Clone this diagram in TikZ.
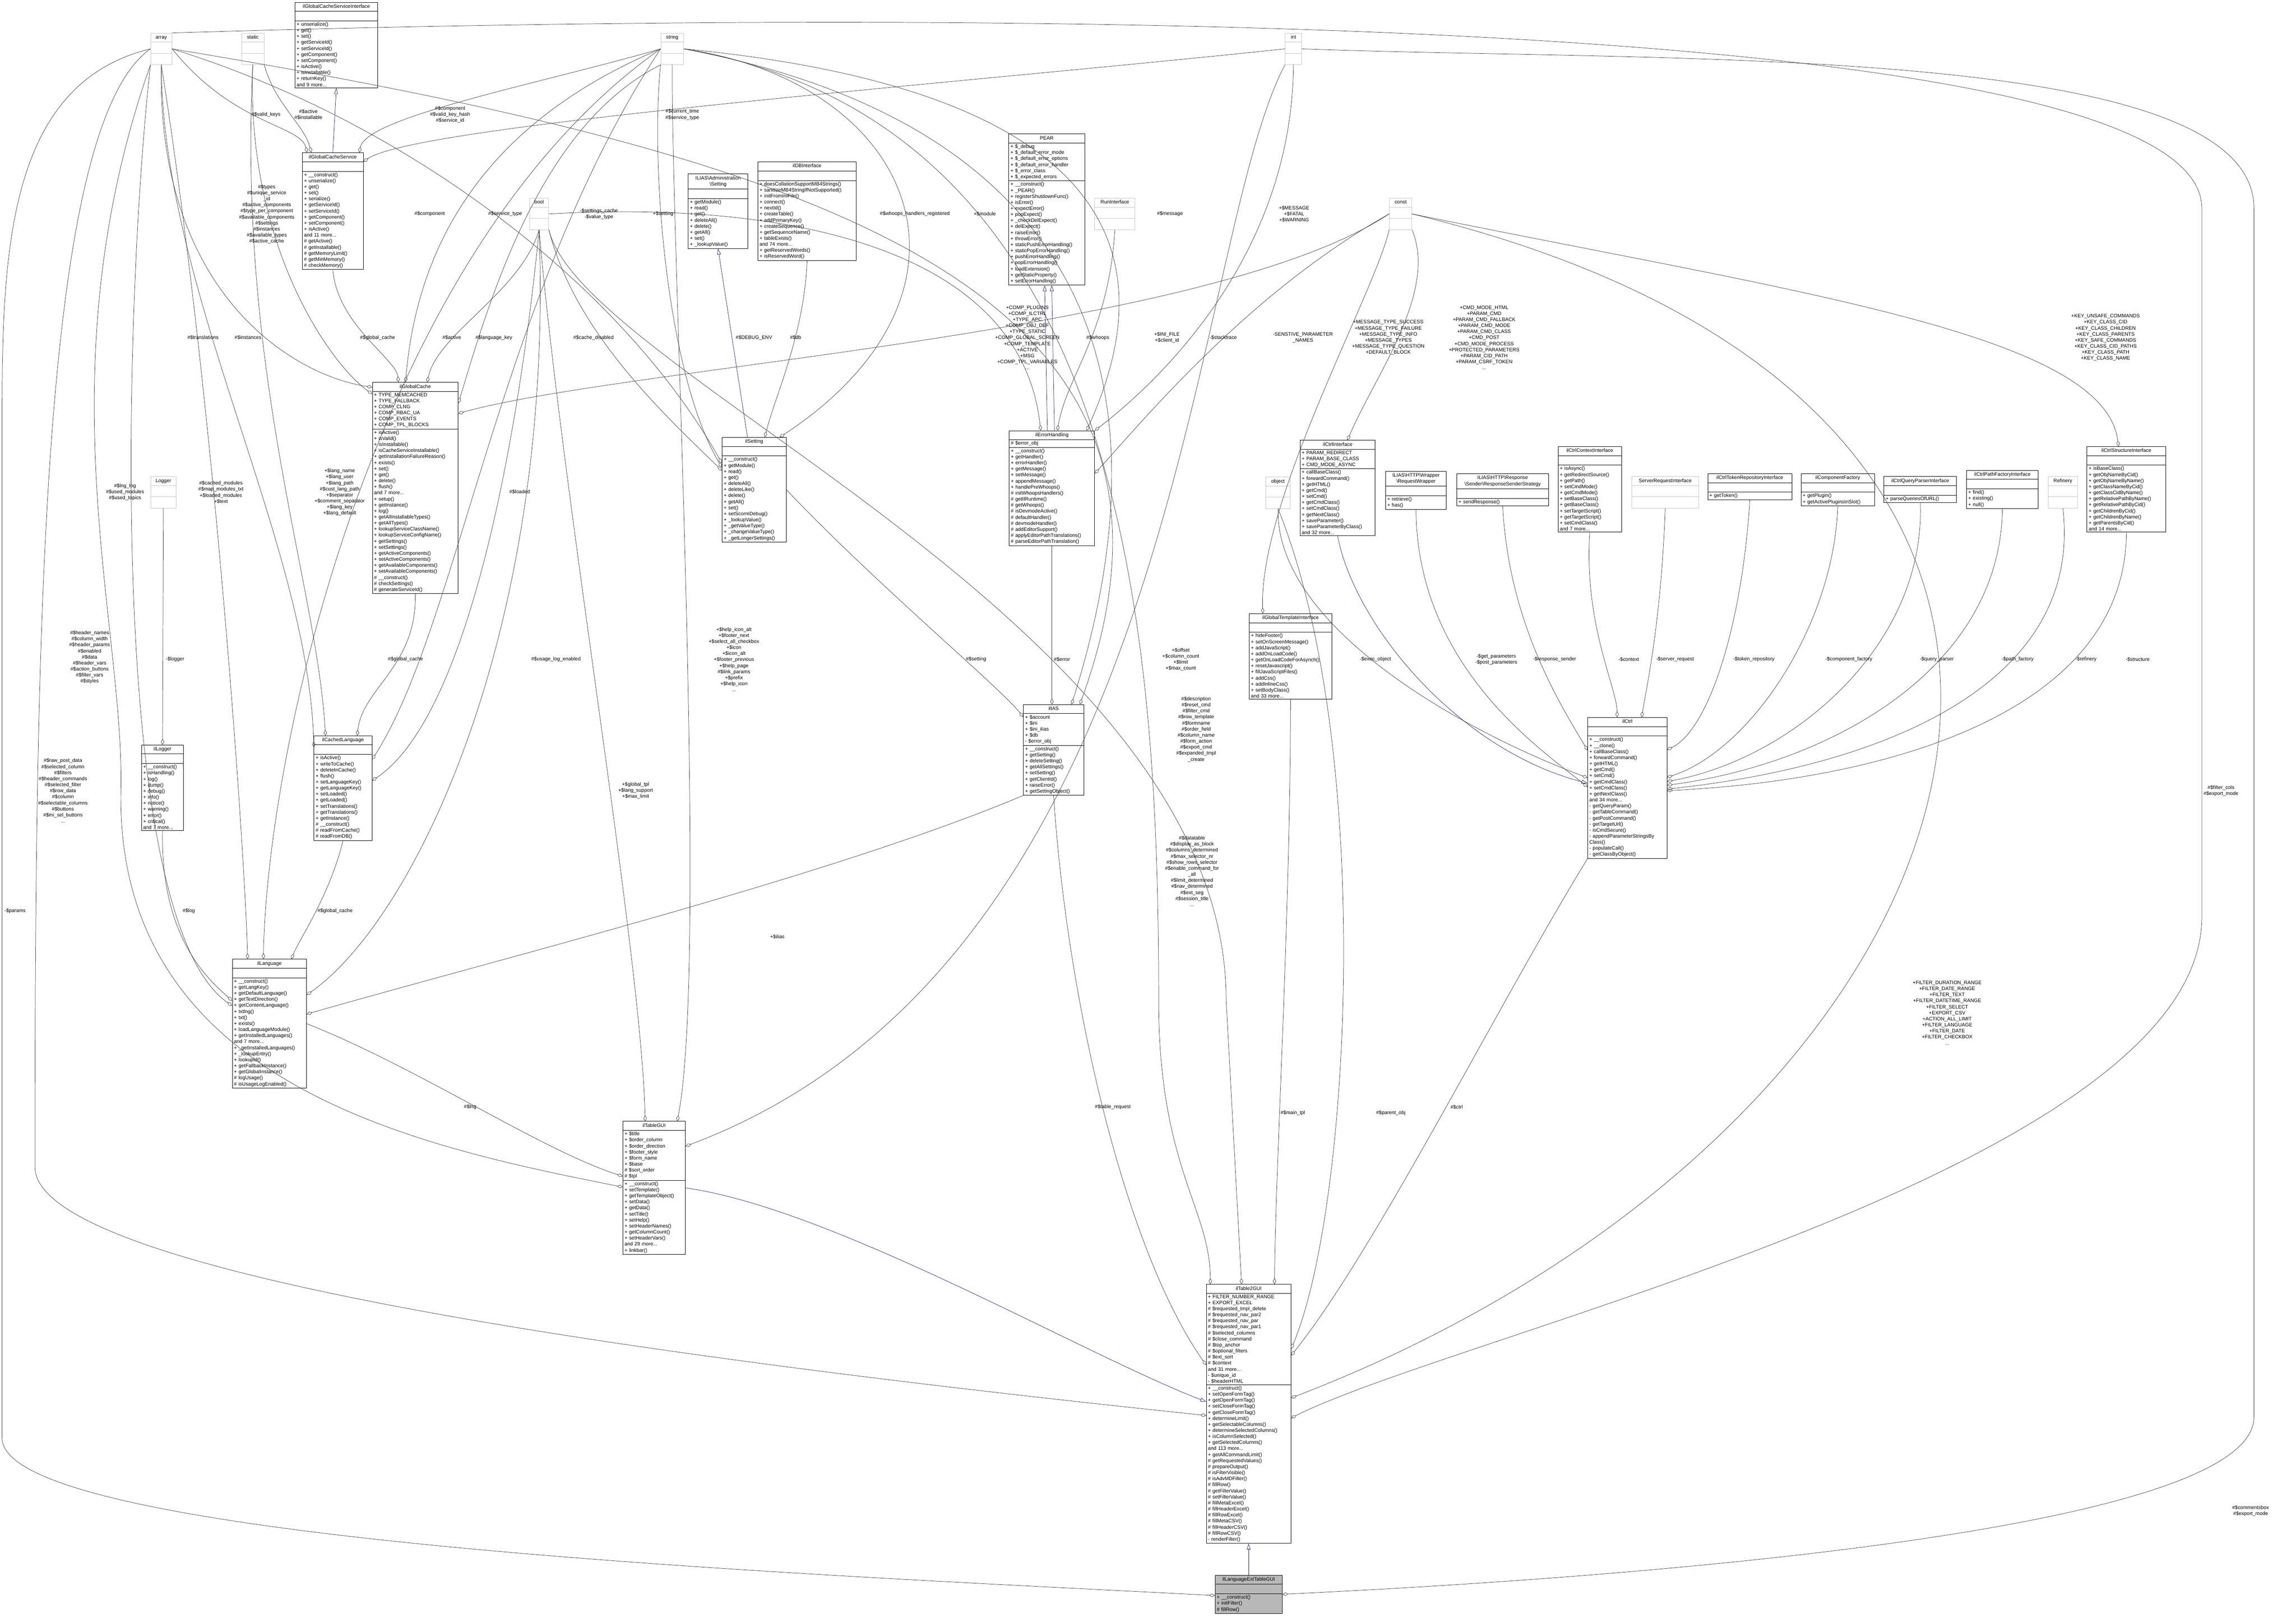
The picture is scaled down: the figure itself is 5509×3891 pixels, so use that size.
\documentclass[tikz,border=0pt]{standalone}
\usepackage{fontspec}
\newfontfamily\cf{Liberation Sans}
\usetikzlibrary{shapes.multipart,arrows.meta}
\definecolor{navy}{HTML}{191970}
\tikzset{
 cbox/.style={rectangle split,rectangle split parts=3,draw=black,line width=1pt,anchor=north west,
   inner xsep=4pt,inner ysep=3pt,align=left,font={\cf\fontsize{12}{14.5}\selectfont},
   rectangle split empty part height=14pt,rectangle split ignore empty parts=false},
 graybox/.style={draw=gray!45},
 extbox/.style={fill=gray!55},
 lbl/.style={font={\cf\fontsize{12}{14.5}\selectfont},align=center,inner sep=0pt},
 agg/.style={draw=black!80,line width=0.8pt,-{Diamond[open,length=14pt,width=8pt]}},
 inh/.style={draw=navy,line width=0.8pt,-{Triangle[open,length=14pt,width=9pt]}}
}
\newcommand\E{\rule{0pt}{16pt}}
\newcommand\T[2]{\makebox[#1pt][c]{\begin{tabular}{@{}c@{}}#2\end{tabular}}}
\newcommand\umlc[7]{\node[cbox,text width=#4pt] (#1) at (#2,#3) {\T{#4}{#5}\nodepart{two}\if\relax\detokenize{#6}\relax\E\else #6\fi\nodepart{three}#7};}
\newcommand\umlg[5]{\node[cbox,graybox,text width=#4pt] (#1) at (#2,#3) {\T{#4}{#5}\nodepart{two}\rule{0pt}{20pt}\nodepart{three}\rule{0pt}{20pt}};}
\newcommand\lab[4]{\node[lbl] (#1) at (#2,#3) {#4};}
\begin{document}
\begin{tikzpicture}[x=1pt,y=-1pt]
\useasboundingbox[fill=white] (0,0) rectangle (5509,3891);
% ---------- gray type boxes
\umlg{arr}{361}{79}{43}{array}
\umlg{sta}{579}{79}{46}{static}
\umlg{str}{1585}{79}{47}{string}
\umlg{int}{3083}{79}{32}{int}
\umlg{bool}{1270}{475}{38}{bool}
\umlg{const}{3333}{475}{46}{const}
\umlg{run}{2626}{475}{89}{RunInterface}
\umlg{obj}{3037}{1144}{50}{object}
\umlg{logger}{361}{1143}{53}{Logger}
\umlg{sri}{3915}{1143}{152}{ServerRequestInterface}
\umlg{refinery}{4914}{1143}{62}{Refinery}
% ---------- classes
\umlc{gcsi}{707}{5}{191}{ilGlobalCacheServiceInterface}{}{+ unserialize()\\+ get()\\+ set()\\+ getServiceId()\\+ setServiceId()\\+ getComponent()\\+ setComponent()\\+ isActive()\\+ isInstallable()\\+ returnKey()\\and 9 more...}
\umlc{gcs}{725}{366}{138}{ilGlobalCacheService}{}{+ \_\_construct()\\+ unserialize()\\+ get()\\+ set()\\+ serialize()\\+ getServiceId()\\+ setServiceId()\\+ getComponent()\\+ setComponent()\\+ isActive()\\and 11 more...\\\# getActive()\\\# getInstallable()\\\# getMemoryLimit()\\\# getMinMemory()\\\# checkMemory()}
\umlc{setI}{1651}{417}{135}{ILIAS\textbackslash Administration\\\textbackslash Setting}{}{+ getModule()\\+ read()\\+ get()\\+ deleteAll()\\+ delete()\\+ getAll()\\+ set()\\+ \_lookupValue()}
\umlc{db}{1818}{388}{228}{ilDBInterface}{}{+ doesCollationSupportMB4Strings()\\+ sanitizeMB4StringIfNotSupported()\\+ initFromIniFile()\\+ connect()\\+ nextId()\\+ createTable()\\+ addPrimaryKey()\\+ createSequence()\\+ getSequenceName()\\+ tableExists()\\and 74 more...\\+ getReservedWords()\\+ isReservedWord()}
\umlc{pear}{2420}{321}{174}{PEAR}{+ \$\_debug\\+ \$\_default\_error\_mode\\+ \$\_default\_error\_options\\+ \$\_default\_error\_handler\\+ \$\_error\_class\\+ \$\_expected\_errors}{+ \_\_construct()\\+ \_PEAR()\\+ registerShutdownFunc()\\+ isError()\\+ expectError()\\+ popExpect()\\+ \_checkDelExpect()\\+ delExpect()\\+ raiseError()\\+ throwError()\\+ staticPushErrorHandling()\\+ staticPopErrorHandling()\\+ pushErrorHandling()\\+ popErrorHandling()\\+ loadExtension()\\+ getStaticProperty()\\+ setErrorHandling()}
\umlc{gc}{893}{917}{198}{ilGlobalCache}{+ TYPE\_MEMCACHED\\+ TYPE\_FALLBACK\\+ COMP\_CLNG\\+ COMP\_RBAC\_UA\\+ COMP\_EVENTS\\+ COMP\_TPL\_BLOCKS}{+ isActive()\\+ isValid()\\+ isInstallable()\\+ isCacheServiceInstallable()\\+ getInstallationFailureReason()\\+ exists()\\+ set()\\+ get()\\+ delete()\\+ flush()\\and 7 more...\\+ setup()\\+ getInstance()\\+ log()\\+ getAllInstallableTypes()\\+ getAllTypes()\\+ lookupServiceClassName()\\+ lookupServiceConfigName()\\+ getSettings()\\+ setSettings()\\+ getActiveComponents()\\+ setActiveComponents()\\+ getAvailableComponents()\\+ setAvailableComponents()\\\# \_\_construct()\\\# checkSettings()\\\# generateServiceId()}
\umlc{set}{1732}{1049}{146}{ilSetting}{}{+ \_\_construct()\\+ getModule()\\+ read()\\+ get()\\+ deleteAll()\\+ deleteLike()\\+ delete()\\+ getAll()\\+ set()\\+ setScormDebug()\\+ \_lookupValue()\\+ \_getValueType()\\+ \_changeValueType()\\+ \_getLongerSettings()}
\umlc{eh}{2421}{1033}{197}{ilErrorHandling}{\# \$error\_obj}{+ \_\_construct()\\+ getHandler()\\+ errorHandler()\\+ getMessage()\\+ setMessage()\\+ appendMessage()\\+ handlePreWhoops()\\\# initWhoopsHandlers()\\\# getIlRuntime()\\\# getWhoops()\\\# isDevmodeActive()\\\# defaultHandler()\\\# devmodeHandler()\\\# addEditorSupport()\\\# applyEditorPathTranslations()\\\# parseEditorPathTranslation()}
\umlc{ci}{3119}{1056}{172}{ilCtrlInterface}{+ PARAM\_REDIRECT\\+ PARAM\_BASE\_CLASS\\+ CMD\_MODE\_ASYNC}{+ callBaseClass()\\+ forwardCommand()\\+ getHTML()\\+ getCmd()\\+ setCmd()\\+ getCmdClass()\\+ setCmdClass()\\+ getNextClass()\\+ saveParameter()\\+ saveParameterByClass()\\and 32 more...}
\umlc{rw}{3324}{1130}{138}{ILIAS\textbackslash HTTP\textbackslash Wrapper\\\textbackslash RequestWrapper}{}{+ retrieve()\\+ has()}
\umlc{rss}{3495}{1136}{212}{ILIAS\textbackslash HTTP\textbackslash Response\\\textbackslash Sender\textbackslash ResponseSenderStrategy}{}{+ sendResponse()}
\umlc{cci}{3738}{1071}{144}{ilCtrlContextInterface}{}{+ isAsync()\\+ getRedirectSource()\\+ getPath()\\+ setCmdMode()\\+ getCmdMode()\\+ setBaseClass()\\+ getBaseClass()\\+ setTargetScript()\\+ getTargetScript()\\+ setCmdClass()\\and 7 more...}
\umlc{ctr}{4097}{1136}{194}{ilCtrlTokenRepositoryInterface}{}{+ getToken()}
\umlc{cf}{4321}{1136}{168}{ilComponentFactory}{}{+ getPlugin()\\+ getActivePluginsInSlot()}
\umlc{qp}{4520}{1143}{166}{ilCtrlQueryParserInterface}{}{+ parseQueriesOfURL()}
\umlc{pf}{4718}{1128}{164}{ilCtrlPathFactoryInterface}{}{+ find()\\+ existing()\\+ null()}
\umlc{csi}{5007}{1071}{181}{ilCtrlStructureInterface}{}{+ isBaseClass()\\+ getObjNameByCid()\\+ getObjNameByName()\\+ getClassNameByCid()\\+ getClassCidByName()\\+ getRelativePathByName()\\+ getRelativePathByCid()\\+ getChildrenByCid()\\+ getChildrenByName()\\+ getParentsByCid()\\and 14 more...}
\umlc{gti}{2997}{1472}{190}{ilGlobalTemplateInterface}{}{+ hideFooter()\\+ setOnScreenMessage()\\+ addJavaScript()\\+ addOnLoadCode()\\+ getOnLoadCodeForAsynch()\\+ resetJavascript()\\+ fillJavaScriptFiles()\\+ addCss()\\+ addInlineCss()\\+ setBodyClass()\\and 33 more...}
\umlc{ctrl}{3809}{1721}{182}{ilCtrl}{}{+ \_\_construct()\\+ \_\_clone()\\+ callBaseClass()\\+ forwardCommand()\\+ getHTML()\\+ getCmd()\\+ setCmd()\\+ getCmdClass()\\+ setCmdClass()\\+ getNextClass()\\and 34 more...\\- getQueryParam()\\- getTableCommand()\\- getPostCommand()\\- getTargetUrl()\\- isCmdSecure()\\- appendParameterStringsBy\\Class()\\- populateCall()\\- getClassByObject()}
\umlc{ias}{2455}{1690}{137}{ilIAS}{+ \$account\\+ \$ini\\+ \$ini\_ilias\\+ \$db\\- \$error\_obj}{+ \_\_construct()\\+ getSetting()\\+ deleteSetting()\\+ getAllSettings()\\+ setSetting()\\+ getClientId()\\+ raiseError()\\+ getSettingObject()}
\umlc{ilog}{339}{1787}{93}{ilLogger}{}{+ \_\_construct()\\+ isHandling()\\+ log()\\+ dump()\\+ debug()\\+ info()\\+ notice()\\+ warning()\\+ error()\\+ critical()\\and 7 more...}
\umlc{cl}{753}{1765}{131}{ilCachedLanguage}{}{+ isActive()\\+ writeToCache()\\+ deleteInCache()\\+ flush()\\+ setLanguageKey()\\+ getLanguageKey()\\+ setLoaded()\\+ getLoaded()\\+ setTranslations()\\+ getTranslations()\\+ getInstance()\\\# \_\_construct()\\\# readFromCache()\\\# readFromDB()}
\umlc{lang}{557}{2301}{170}{ilLanguage}{}{+ \_\_construct()\\+ getLangKey()\\+ getDefaultLanguage()\\+ getTextDirection()\\+ getContentLanguage()\\+ txtlng()\\+ txt()\\+ exists()\\+ loadLanguageModule()\\+ getInstalledLanguages()\\and 7 more...\\+ \_getInstalledLanguages()\\+ \_lookupEntry()\\+ lookupId()\\+ getFallbackInstance()\\+ getGlobalInstance()\\\# logUsage()\\\# isUsageLogEnabled()}
\umlc{tgui}{1494}{2690}{142}{ilTableGUI}{+ \$title\\+ \$order\_column\\+ \$order\_direction\\+ \$footer\_style\\+ \$form\_name\\+ \$base\\\# \$sort\_order\\\# \$tpl}{+ \_\_construct()\\+ setTemplate()\\+ getTemplateObject()\\+ setData()\\+ getData()\\+ setTitle()\\+ setHelp()\\+ setHeaderNames()\\+ getColumnCount()\\+ setHeaderVars()\\and 29 more...\\+ linkbar()}
\umlc{t2}{2894}{3081}{195}{ilTable2GUI}{+ FILTER\_NUMBER\_RANGE\\+ EXPORT\_EXCEL\\\# \$requested\_tmpl\_delete\\\# \$requested\_nav\_par2\\\# \$requested\_nav\_par\\\# \$requested\_nav\_par1\\\# \$selected\_columns\\\# \$close\_command\\\# \$top\_anchor\\\# \$optional\_filters\\\# \$ext\_sort\\\# \$context\\and 31 more...\\- \$unique\_id\\- \$headerHTML}{+ \_\_construct()\\+ setOpenFormTag()\\+ getOpenFormTag()\\+ setCloseFormTag()\\+ getCloseFormTag()\\+ determineLimit()\\+ getSelectableColumns()\\+ determineSelectedColumns()\\+ isColumnSelected()\\+ getSelectedColumns()\\and 113 more...\\+ getAllCommandLimit()\\\# getRequestedValues()\\\# prepareOutput()\\\# isFilterVisible()\\\# isAdvMDFilter()\\\# fillRow()\\\# getFilterValue()\\\# setFilterValue()\\\# fillMetaExcel()\\\# fillHeaderExcel()\\\# fillRowExcel()\\\# fillMetaCSV()\\\# fillHeaderCSV()\\\# fillRowCSV()\\- renderFilter()}
\node[cbox,extbox,text width=153pt] (ext) at (2915,3779) {\T{153}{ilLanguageExtTableGUI}\nodepart{two}\E\nodepart{three}+ \_\_construct()\\+ initFilter()\\\# fillRow()};
% ---------- inheritance
\draw[inh] (gcs.north) -- (gcsi.south);
\draw[inh] ([xshift=-16]set.north) -- (setI.south);
\draw[inh] ([xshift=-11]eh.north) -- ([xshift=-5]pear.south);
\draw[inh] ([xshift=6]eh.north) -- ([xshift=12]pear.south);
\draw[inh] (ci.south) .. controls (3250,1500) and (3500,1800) .. ([yshift=-158]ctrl.north west);
\draw[inh] (tgui.east) .. controls (2000,2900) and (2600,3250) .. ([yshift=-282]t2.north west);
\draw[inh] (ext.north) -- (t2.south);
% ---------- aggregation: top region
\draw[agg] (arr.east) .. controls (560,300) and (720,300) .. ([xshift=12]gcs.north west);
\draw[agg] (sta.south east) .. controls (660,250) and (730,300) .. ([xshift=22]gcs.north west);
\draw[agg] (str.west) .. controls (1300,200) and (880,280) .. ([xshift=-10]gcs.north east);
\draw[agg] (int.west) .. controls (2300,200) and (1000,300) .. ([yshift=-22]gcs.north east);
\draw[agg] (arr.south) .. controls (375,700) and (700,900) .. ([yshift=-12]gc.north west);
\draw[agg] (sta.south) .. controls (590,600) and (800,880) .. ([yshift=-28]gc.north west);
\draw[agg] (gcs.south) .. controls (810,780) and (950,860) .. ([xshift=63]gc.north west);
\draw[agg] (str.west) .. controls (1150,300) and (1000,600) .. ([xshift=80]gc.north west);
\draw[agg] (bool.south) .. controls (1250,700) and (1050,800) .. ([xshift=132]gc.north west);
\draw[agg] (str.south west) .. controls (1300,300) and (1180,700) .. ([yshift=-50]gc.north east);
\draw[agg] (const.west) .. controls (2900,800) and (1500,880) .. ([yshift=-75]gc.north east);
\draw[agg] (arr.south) .. controls (390,700) and (740,1300) .. ([yshift=-28]cl.north west);
\draw[agg] (sta.south) .. controls (570,900) and (760,1400) .. ([xshift=28]cl.north west);
\draw[agg] (gc.south) .. controls (1000,1600) and (870,1650) .. ([xshift=104]cl.north west);
\draw[agg] (str.west) .. controls (1200,700) and (1100,1500) .. ([yshift=-57]cl.north east);
\draw[agg] (bool.south) .. controls (1260,900) and (1150,1700) .. ([yshift=-108]cl.north east);
\draw[agg] (logger.south) -- (ilog.north);
\draw[agg] (arr.south west) .. controls (300,700) and (250,2200) .. ([yshift=-112]lang.north west);
\draw[agg] (ilog.south) .. controls (385,2250) and (500,2350) .. ([yshift=-100]lang.north west);
\draw[agg] (arr.south) .. controls (520,1000) and (590,2100) .. ([xshift=37]lang.north west);
\draw[agg] (str.west) .. controls (900,600) and (640,1800) .. ([xshift=75]lang.north west);
\draw[agg] (cl.south) .. controls (790,2150) and (720,2250) .. ([xshift=142]lang.north west);
\draw[agg] (bool.south) .. controls (1330,1500) and (1000,2200) .. ([yshift=-86]lang.north east);
\draw[agg] (ias.south west) .. controls (2000,2100) and (1200,2300) .. ([yshift=-132]lang.north east);
\draw[agg] (arr.east) .. controls (1000,300) and (1500,700) .. ([yshift=-62]set.north west);
\draw[agg] (str.south west) .. controls (1560,400) and (1600,900) .. ([yshift=-72]set.north west);
\draw[agg] (bool.south east) .. controls (1380,800) and (1600,1000) .. ([yshift=-80]set.north west);
\draw[agg] (str.east) .. controls (2200,200) and (2400,700) .. ([xshift=-16]set.north east);
\draw[agg] (db.south) .. controls (1930,800) and (1860,950) .. ([xshift=103]set.north west);
\draw[agg] (set.east) .. controls (2100,1400) and (2400,1650) .. ([yshift=-30]ias.north west);
\draw[agg] (eh.south) -- (eh.south |- ias.north);
\draw[agg] (bool.east) .. controls (1900,480) and (2450,600) .. ([xshift=76]eh.north west);
\draw[agg] (run.south) .. controls (2660,800) and (2560,900) .. ([xshift=116]eh.north west);
\draw[agg] (str.east) .. controls (2500,200) and (2850,500) .. ([xshift=186]eh.north west);
\draw[agg] (int.south) .. controls (3100,600) and (2800,900) .. (eh.north east);
\draw[agg] (const.west) .. controls (3000,700) and (2750,1000) .. ([yshift=-103]eh.north east);
\draw[agg] (str.east) .. controls (2600,300) and (2820,900) .. ([xshift=-30]ias.north east);
\draw[agg] (arr.east) .. controls (2000,380) and (2950,700) .. ([xshift=-10]ias.north east);
\draw[agg] (const.south west) .. controls (3300,700) and (3020,1200) .. ([xshift=33]gti.north west);
\draw[agg] (const.south east) .. controls (3450,700) and (3300,900) .. ([xshift=114]ci.north west);
\draw[agg] (const.east) .. controls (4300,700) and (5050,800) .. ([xshift=-19]csi.north);
% ---------- ilCtrl members
\draw[agg] (obj.south) .. controls (3060,1500) and (3500,1750) .. ([yshift=-145]ctrl.north west);
\draw[agg] (rw.south) .. controls (3400,1600) and (3700,1800) .. ([yshift=-167]ctrl.north west);
\draw[agg] (rss.south) .. controls (3620,1500) and (3750,1700) .. ([yshift=-79]ctrl.north west);
\draw[agg] (cci.south) .. controls (3800,1500) and (3880,1650) .. ([xshift=71]ctrl.north west);
\draw[agg] (sri.south) .. controls (3985,1500) and (3950,1650) .. ([xshift=130]ctrl.north west);
\draw[agg] (ctr.south) .. controls (4180,1500) and (4100,1750) .. ([yshift=-78]ctrl.north east);
\draw[agg] (cf.south) .. controls (4400,1500) and (4200,1800) .. ([yshift=-144]ctrl.north east);
\draw[agg] (qp.south) .. controls (4620,1550) and (4300,1820) .. ([yshift=-154]ctrl.north east);
\draw[agg] (pf.south) .. controls (4800,1600) and (4400,1830) .. ([yshift=-163]ctrl.north east);
\draw[agg] (refinery.south) .. controls (5000,1650) and (4500,1840) .. ([yshift=-172]ctrl.north east);
\draw[agg] (csi.south) .. controls (5100,1700) and (4550,1870) .. ([yshift=-176]ctrl.north east);
% ---------- ilTableGUI / ilTable2GUI members
\draw[agg] (arr.south west) .. controls (100,900) and (300,1500) .. (290,1900) .. controls (280,2600) and (1000,2750) .. ([yshift=-158]tgui.north west);
\draw[agg] (lang.east) .. controls (1000,2560) and (1300,2760) .. ([yshift=-132]tgui.north west);
\draw[agg] (bool.south) .. controls (1350,1200) and (1540,2300) .. ([xshift=54]tgui.north west);
\draw[agg] (str.south) .. controls (1610,600) and (1700,2300) .. ([xshift=-20]tgui.north east);
\draw[agg] (int.south west) .. controls (2850,600) and (2840,2300) .. ([yshift=-60]tgui.north east);
\draw[agg] (arr.west) .. controls (100,300) and (84,1500) .. (84,2800) .. controls (84,3050) and (1500,3250) .. ([yshift=-315]t2.north west);
\draw[agg] (arr.west) .. controls (20,200) and (5,600) .. (5,1000) -- (5,3450) .. controls (5,3700) and (2000,3780) .. ([yshift=-49]ext.north west);
\draw[agg] (ias.south) .. controls (2560,2400) and (2700,3000) .. ([yshift=-194]t2.north west);
\draw[agg] (str.east) .. controls (2700,300) and (2780,1500) .. (2780,2400) .. controls (2780,2800) and (2904,2900) .. ([xshift=10]t2.north west);
\draw[agg] (bool.south east) .. controls (1400,900) and (2942,1500) .. (2942,2400) -- ([xshift=85]t2.north west);
\draw[agg] (gti.south) .. controls (3096,2200) and (3060,2800) .. ([xshift=164]t2.north west);
\draw[agg] (obj.south) .. controls (3300,1800) and (3240,2900) .. ([yshift=-155]t2.north east);
\draw[agg] (ctrl.south west) .. controls (3600,2400) and (3300,3000) .. ([yshift=-171]t2.north east);
\draw[agg] (const.east) .. controls (5400,1000) and (4800,2700) .. ([yshift=-273]t2.north east);
\draw[agg] (arr.north east) .. controls (2000,30) and (5283,0) .. (5283,500) -- (5283,2200) .. controls (5283,2800) and (3500,3200) .. ([yshift=-321]t2.north east);
\draw[agg] (int.east) .. controls (4000,150) and (5408,100) .. (5408,500) -- (5408,3400) .. controls (5408,3700) and (3600,3800) .. ([yshift=-46]ext.north east);
% ---------- labels
\lab{l1}{638}{275}{\#\$valid\_keys}
\lab{l2}{740}{275}{\#\$active\\\#\$installable}
\lab{l3}{1080}{275}{\#\$component\\\#\$valid\_key\_hash\\\#\$service\_id}
\lab{l4}{1637}{275}{\#\$current\_time\\\#\$service\_type}
\lab{l5}{640}{514}{\#\$types\\\#\$unique\_service\\\_id\\\#\$active\_components\\\#\$type\_per\_component\\\#\$available\_components\\\#\$settings\\\#\$instances\\\#\$available\_types\\\#\$active\_cache}
\lab{l6}{1031}{513}{\#\$component}
\lab{l7}{1212}{513}{\#\$service\_type}
\lab{l8}{1437}{514}{-\$settings\_cache\\-\$value\_type}
\lab{l9}{1591}{513}{+\$setting}
\lab{l10}{2195}{513}{\#\$whoops\_handlers\_registered}
\lab{l11}{2363}{513}{+\$module}
\lab{l12}{2807}{513}{\#\$message}
\lab{l13}{3105}{513}{+\$MESSAGE\\+\$FATAL\\+\$WARNING}
\lab{l14}{487}{810}{\#\$translations}
\lab{l15}{595}{810}{\#\$instances}
\lab{l16}{906}{810}{\#\$global\_cache}
\lab{l17}{1084}{810}{\#\$active}
\lab{l18}{1185}{810}{\#\$language\_key}
\lab{l19}{1424}{810}{\#\$cache\_disabled}
\lab{l20}{1809}{810}{\#\$DEBUG\_ENV}
\lab{l21}{1909}{810}{\#\$db}
\lab{l22}{2465}{810}{+COMP\_PLUGINS\\+COMP\_ILCTRL\\+TYPE\_APC\\+COMP\_OBJ\_DEF\\+TYPE\_STATIC\\+COMP\_GLOBAL\_SCREEN\\+COMP\_TEMPLATE\\+ACTIVE\\+MSG\\+COMP\_TPL\_VARIABLES\\...}
\lab{l23}{2634}{810}{\#\$whoops}
\lab{l24}{2800}{810}{+\$INI\_FILE\\+\$client\_id}
\lab{l25}{2935}{810}{-\$stacktrace}
\lab{l26}{3126}{810}{-SENSTIVE\_PARAMETER\\\_NAMES}
\lab{l27}{3331}{810}{+MESSAGE\_TYPE\_SUCCESS\\+MESSAGE\_TYPE\_FAILURE\\+MESSAGE\_TYPE\_INFO\\+MESSAGE\_TYPES\\+MESSAGE\_TYPE\_QUESTION\\+DEFAULT\_BLOCK}
\lab{l28}{3561}{810}{+CMD\_MODE\_HTML\\+PARAM\_CMD\\+PARAM\_CMD\_FALLBACK\\+PARAM\_CMD\_MODE\\+PARAM\_CMD\_CLASS\\+CMD\_POST\\+CMD\_MODE\_PROCESS\\+PROTECTED\_PARAMETERS\\+PARAM\_CID\_PATH\\+PARAM\_CSRF\_TOKEN\\...}
\lab{l29}{5052}{810}{+KEY\_UNSAFE\_COMMANDS\\+KEY\_CLASS\_CID\\+KEY\_CLASS\_CHILDREN\\+KEY\_CLASS\_PARENTS\\+KEY\_SAFE\_COMMANDS\\+KEY\_CLASS\_CID\_PATHS\\+KEY\_CLASS\_PATH\\+KEY\_CLASS\_NAME}
\lab{l30}{1247}{1180}{\#\$loaded}
\lab{l31}{300}{1181}{\#\$lng\_log\\\#\$used\_modules\\\#\$used\_topics}
\lab{l32}{530}{1181}{\#\$cached\_modules\\\#\$map\_modules\_txt\\+\$loaded\_modules\\+\$text}
\lab{l33}{815}{1181}{+\$lang\_name\\+\$lang\_user\\+\$lang\_path\\\#\$cust\_lang\_path\\+\$separator\\+\$comment\_separator\\+\$lang\_key\\+\$lang\_default}
\lab{l34}{420}{1582}{-\$logger}
\lab{l35}{973}{1582}{\#\$global\_cache}
\lab{l36}{1334}{1582}{\#\$usage\_log\_enabled}
\lab{l37}{1761}{1582}{+\$help\_icon\_alt\\+\$footer\_next\\+\$select\_all\_checkbox\\+\$icon\\+\$icon\_alt\\+\$footer\_previous\\+\$help\_page\\\#\$link\_params\\+\$prefix\\+\$help\_icon\\...}
\lab{l38}{2342}{1582}{\#\$setting}
\lab{l39}{2548}{1582}{\#\$error}
\lab{l40}{2833}{1582}{+\$offset\\+\$column\_count\\+\$limit\\+\$max\_count}
\lab{l41}{3300}{1582}{-\$exec\_object}
\lab{l42}{3590}{1582}{-\$get\_parameters\\-\$post\_parameters}
\lab{l43}{3730}{1582}{-\$response\_sender}
\lab{l44}{3908}{1582}{-\$context}
\lab{l45}{4019}{1582}{-\$server\_request}
\lab{l46}{4208}{1582}{-\$token\_repository}
\lab{l47}{4436}{1582}{-\$component\_factory}
\lab{l48}{4647}{1582}{-\$query\_parser}
\lab{l49}{4841}{1582}{-\$path\_factory}
\lab{l50}{5005}{1582}{-\$refinery}
\lab{l51}{5129}{1582}{-\$structure}
\lab{l52}{215}{1577}{\#\$header\_names\\\#\$column\_width\\\#\$header\_params\\\#\$enabled\\\#\$data\\\#\$header\_vars\\\#\$action\_buttons\\\#\$filter\_vars\\\#\$styles}
\lab{l53}{151}{1897}{\#\$raw\_post\_data\\\#\$selected\_column\\\#\$filters\\\#\$header\_commands\\\#\$selected\_filter\\\#\$row\_data\\\#\$column\\\#\$selectable\_columns\\\#\$buttons\\\#\$mi\_sel\_buttons\\...}
\lab{l54}{5329}{1897}{\#\$filter\_cols\\\#\$export\_mode}
\lab{l55}{1525}{1897}{+\$global\_tpl\\+\$lang\_support\\+\$max\_limit}
\lab{l56}{36}{2186}{-\$params}
\lab{l57}{453}{2186}{\#\$log}
\lab{l58}{804}{2186}{\#\$global\_cache}
\lab{l59}{1865}{2248}{+\$ilias}
\lab{l60}{2870}{1750}{\#\$description\\\#\$reset\_cmd\\\#\$filter\_cmd\\\#\$row\_template\\\#\$formname\\\#\$order\_field\\\#\$column\_name\\\#\$form\_action\\\#\$export\_cmd\\\#\$expanded\_tmpl\\\_create}
\lab{l61}{2860}{2090}{\#\$datatable\\\#\$display\_as\_block\\\#\$columns\_determined\\\#\$max\_selector\_nr\\\#\$show\_rows\_selector\\\#\$enable\_command\_for\\\_all\\\#\$limit\_determined\\\#\$nav\_determined\\\#\$ext\_seg\\\#\$session\_title\\...}
\lab{l62}{4672}{2430}{+FILTER\_DURATION\_RANGE\\+FILTER\_DATE\_RANGE\\+FILTER\_TEXT\\+FILTER\_DATETIME\_RANGE\\+FILTER\_SELECT\\+EXPORT\_CSV\\+ACTION\_ALL\_LIMIT\\+FILTER\_LANGUAGE\\+FILTER\_DATE\\+FILTER\_CHECKBOX\\...}
\lab{l63}{1128}{2656}{\#\$lng}
\lab{l64}{2670}{2656}{\#\$table\_request}
\lab{l65}{3102}{2670}{\#\$main\_tpl}
\lab{l66}{3337}{2670}{\#\$parent\_obj}
\lab{l67}{3495}{2656}{\#\$ctrl}
\lab{l68}{5400}{3625}{\#\$commentsbox\\\#\$export\_mode}
\end{tikzpicture}
\end{document}
